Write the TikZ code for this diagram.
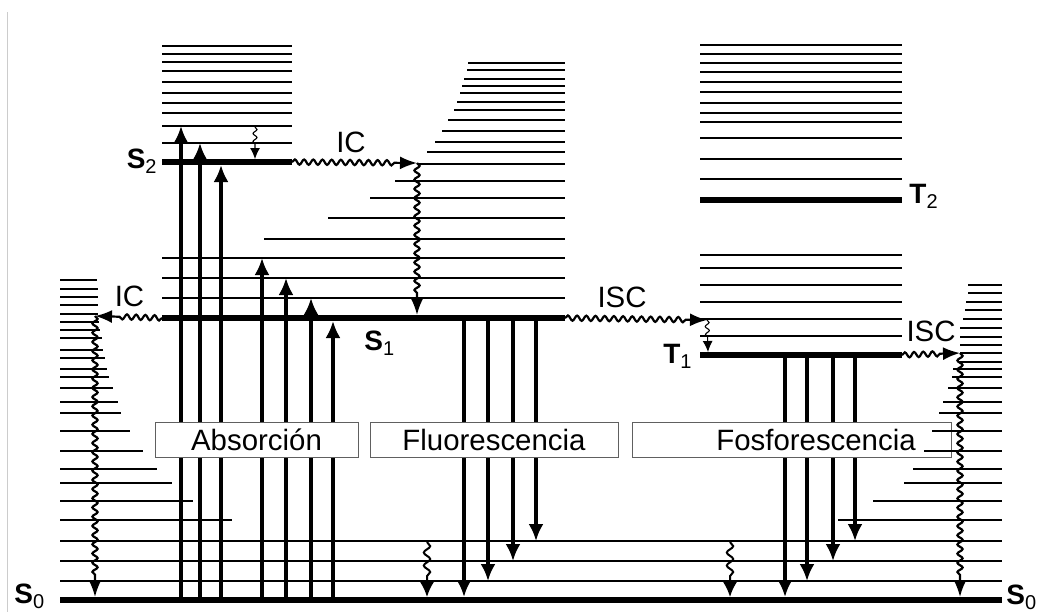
\documentclass[tikz,border=0pt]{standalone}
\usepackage{fontspec}
\setmainfont{Liberation Sans}
\usetikzlibrary{arrows.meta,decorations.pathmorphing}
\tikzset{
  level/.style={line width=3.1pt},
  vib/.style={line width=0.9pt},
  updown/.style={line width=1.6pt, -{Latex[length=8.5pt,width=7.5pt]}},
  wavy/.style={
    line width=1.1pt,
    decorate,
    decoration={snake, amplitude=1.3pt, segment length=4.6pt, post length=10pt},
    -{Latex[length=8.5pt,width=6.5pt]}
  },
  relax/.style={
    line width=1pt,
    decorate,
    decoration={snake, amplitude=1.6pt, segment length=6.5pt, post length=8pt},
    -{Latex[length=7.5pt,width=7pt]}
  },
  smallwavy/.style={
    line width=0.55pt,
    decorate,
    decoration={snake, amplitude=1pt, segment length=4pt, post length=6pt},
    -{Latex[length=5.5pt,width=5pt]}
  },
  labelbox/.style={draw=gray!75!black, fill=white, line width=0.5pt, inner sep=0pt,
    minimum height=17.5pt, font=\fontsize{14.7}{17}\selectfont},
  proc/.style={inner sep=0pt, font=\fontsize{14.7}{17}\selectfont},
  statelabel/.style={inner sep=0pt, font=\fontsize{14}{16}\selectfont\bfseries}
}
\newcommand{\statelab}[2]{#1\raisebox{-2.6pt}{\mdseries\fontsize{10}{10}\selectfont #2}}

\begin{document}
\begin{tikzpicture}[x=0.5pt, y=-0.5pt]
  \useasboundingbox (0,0) rectangle (1048,612);
  \draw[gray!40, line width=0.5pt] (7,12) -- (7,612);

  % electronic levels
  \draw[level] (60,600) -- (1002,600);
  \draw[level] (162,318) -- (565,318);
  \draw[level] (162,162) -- (292,162);
  \draw[level] (700,200) -- (902,200);
  \draw[level] (700,355) -- (902,355);

  % vibrational levels
  \foreach \y in {46,54,62,71,82,93,103,113,126,143}
    \draw[vib] (162,\y) -- (292,\y);
  \foreach \y in {258,278,298}
    \draw[vib] (162,\y) -- (565,\y);
  \foreach \x/\y in {264/239,328/218,370/198,395/181,417/164,427/152,435/142,442/131,
                     448/120,454/110,457/102,460/93,462/86,464/79,467/70,468/63}
    \draw[vib] (\x,\y) -- (565,\y);
  \foreach \y in {45,54,63,72,82,92,103,113,122,138,159,179,255,268,285,302,319,336}
    \draw[vib] (700,\y) -- (902,\y);
  \foreach \y in {541,561,581}
    \draw[vib] (60,\y) -- (1002,\y);
  \foreach \x/\y in {232/520,193/501,172/483,157/469,143/451,130/431,121/413,118/402,
                     113/388,109/377,107/369,105/358,103/350,102/338,100/330,99/322,
                     98/314,98/305,98/297,98/289,97/280}
    \draw[vib] (60,\y) -- (\x,\y);

  % radiative transitions
  \foreach \x/\y [count=\i] in {181/126,200/143,221/165,262/258,286/278,311/298,333/321} {
    \coordinate (ab\i) at (\x,600);
    \coordinate (at\i) at (\x,\y);
    \draw[updown] (ab\i) -- (at\i);
  }
  \foreach \x/\y [count=\i] in {464/597,488/581,513/561,536/541} {
    \coordinate (ft\i) at (\x,318);
    \coordinate (fb\i) at (\x,\y);
    \draw[updown] (ft\i) -- (fb\i);
  }
  \foreach \x/\y [count=\i] in {785/597,807/581,833/561,855/541} {
    \coordinate (pt\i) at (\x,355);
    \coordinate (pb\i) at (\x,\y);
    \draw[updown] (pt\i) -- (pb\i);
  }

  \node[labelbox, minimum width=101.5pt] (absbox) at (256.5,439.5) {Absorción};
  \node[labelbox, minimum width=124pt] (fluobox) at (494,439.5) {Fluorescencia};
  \node[labelbox, minimum width=159.5pt] (fosbox) at (791.5,439.5) {};
  \node[proc] (fostext) at (816,440) {Fosforescencia};

  \foreach \x/\y in {838/520,873/501,904/483,913/469,924/451,932/431,939/413,943/402,
                     948/388,952/377,953/369,958/362,960/353,960/345,960/337,960/328,
                     963/319,965/310,966/302,968/293,968/285}
    \draw[vib] (\x,\y) -- (1002,\y);

  % non-radiative transitions
  \coordinate (s2end) at (292,162);
  \coordinate (icbend) at (417,163);
  \coordinate (s1top) at (417,315);
  \coordinate (s1left) at (162,318);
  \coordinate (icleft) at (95,316);
  \coordinate (s0left) at (95,597);
  \coordinate (s1right) at (565,318);
  \coordinate (iscend) at (707,320);
  \coordinate (t1top) at (708,352);
  \coordinate (t1right) at (902,355);
  \coordinate (iscbend) at (960,353);
  \coordinate (s0right) at (960,597);
  \coordinate (v2a) at (255,127);
  \coordinate (v2b) at (255,159);
  \coordinate (r1a) at (427,542);
  \coordinate (r1b) at (427,597);
  \coordinate (r2a) at (730,542);
  \coordinate (r2b) at (730,597);
  \draw[wavy] (s2end) -- (icbend);
  \draw[wavy] (icbend) -- (s1top);
  \draw[wavy] (s1left) -- (icleft);
  \draw[wavy] (icleft) -- (s0left);
  \draw[wavy] (s1right) -- (iscend);
  \draw[smallwavy] (iscend) -- (t1top);
  \draw[wavy] (t1right) -- (iscbend);
  \draw[wavy] (iscbend) -- (s0right);
  \draw[smallwavy] (v2a) -- (v2b);
  \draw[relax] (r1a) -- (r1b);
  \draw[relax] (r2a) -- (r2b);

  \node[proc] (iclab1) at (351,142.5) {IC};
  \node[proc] (iclab2) at (129.5,296) {IC};
  \node[proc] (isclab1) at (622,297) {ISC};
  \node[proc] (isclab2) at (931,331) {ISC};

  \node[statelabel, anchor=base west] (s0lab) at (14,603) {\statelab{S}{0}};
  \node[statelabel, anchor=base west] (s0labr) at (1006,604) {\statelab{S}{0}};
  \node[statelabel, anchor=base west] (s1lab) at (364,350) {\statelab{S}{1}};
  \node[statelabel, anchor=base east] (s2lab) at (157,168) {\statelab{S}{2}};
  \node[statelabel, anchor=base east] (t1lab) at (692,363) {\statelab{T}{1}};
  \node[statelabel, anchor=base west] (t2lab) at (909,203) {\statelab{T}{2}};
\end{tikzpicture}
\end{document}
